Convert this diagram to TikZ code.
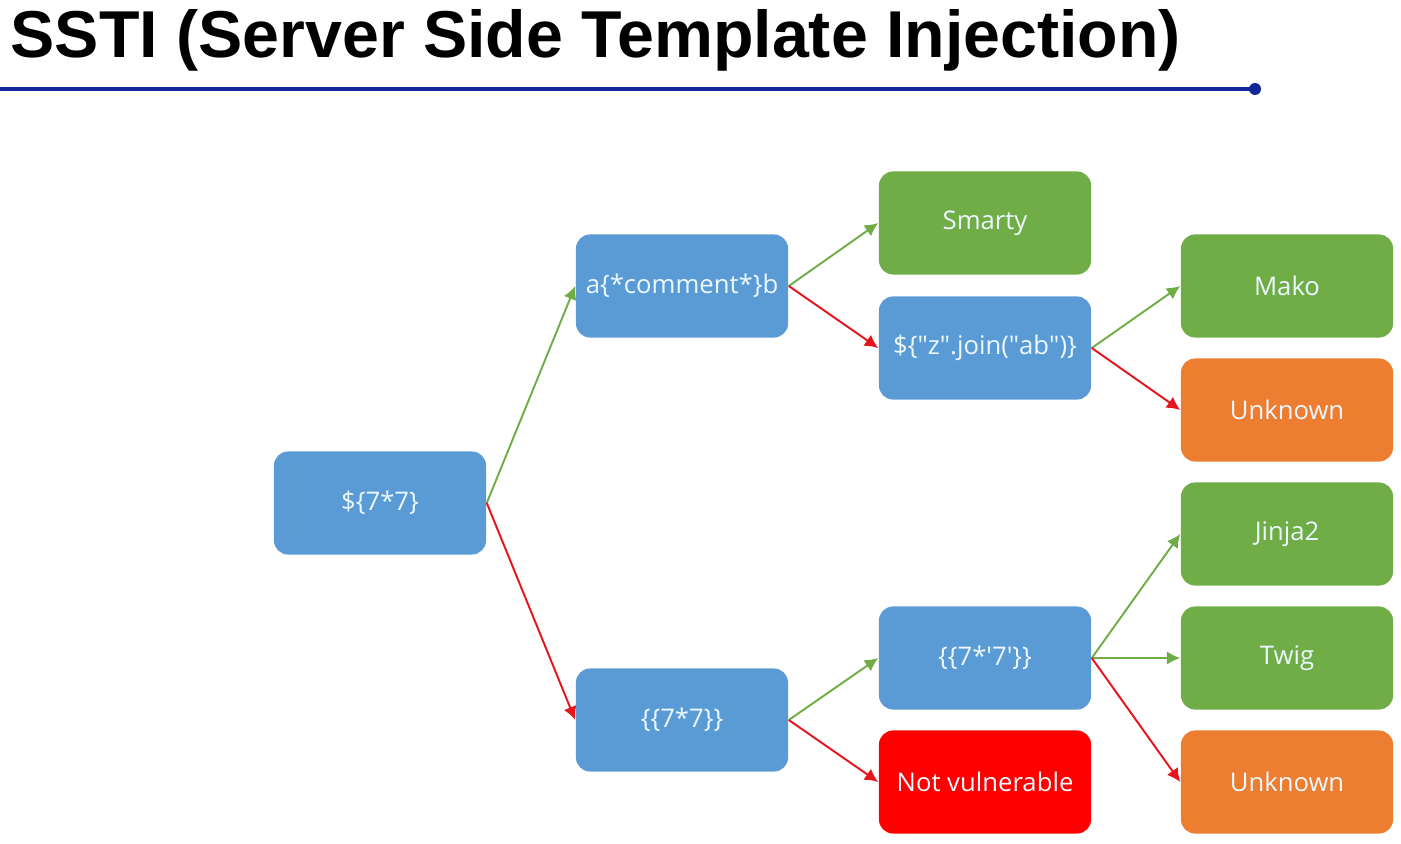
\documentclass[tikz,border=0pt]{standalone}
\usepackage{fontspec}
\setmainfont{Open Sans}
\newfontfamily\titlefont{Liberation Sans}
\usetikzlibrary{arrows.meta}
\definecolor{boxblue}{HTML}{5B9BD5}
\definecolor{boxgreen}{HTML}{70AD47}
\definecolor{boxorange}{HTML}{ED7D31}
\definecolor{boxred}{HTML}{FF0000}
\definecolor{rulerblue}{HTML}{12279A}
\definecolor{arrowgreen}{HTML}{70AD47}
\definecolor{arrowred}{HTML}{E8141C}
\tikzset{
  tbox/.style={rounded corners=4pt, minimum width=2.12cm, minimum height=1.03cm,
    text=white!92!cyan, font=\fontsize{7.3pt}{8pt}\selectfont, inner sep=0pt},
  bluebox/.style={tbox, fill=boxblue},
  greenbox/.style={tbox, fill=boxgreen},
  orangebox/.style={tbox, fill=boxorange},
  redbox/.style={tbox, fill=boxred},
  yes/.style={-{Latex[length=3.8pt,width=3.8pt]}, arrowgreen, line width=0.55pt},
  no/.style={-{Latex[length=3.8pt,width=3.8pt]}, arrowred, line width=0.55pt}
}

\begin{document}
\begin{tikzpicture}[x=0.01cm,y=-0.01cm]
    \useasboundingbox (0,0) rectangle (1401,843);
    % title and ruler
    \node[anchor=base west, inner sep=0pt, font=\titlefont\bfseries\fontsize{18.85pt}{21pt}\selectfont] (title) at (10,58) {SSTI (Server Side Template Injection)};
    \coordinate (rulestart) at (0,89);
    \coordinate (ruleend) at (1255,89);
    \draw[rulerblue, line width=0.9pt] (rulestart) -- (ruleend);
    \fill[rulerblue] (ruleend) circle (6);
    % nodes
    \node[bluebox] (root) at (380,503) {\$\{7*7\}};
    \node[bluebox] (comment) at (682,286) {a\{*comment*\}b};
    \node[bluebox] (curly) at (682,720) {\{\{7*7\}\}};
    \node[greenbox] (smarty) at (985,223) {Smarty};
    \node[bluebox] (join) at (985,348) {\$\{\textquotedbl z\textquotedbl.join(\textquotedbl ab\textquotedbl)\}};
    \node[bluebox] (quoted) at (985,658) {\{\{7*\textquotesingle 7\textquotesingle\}\}};
    \node[redbox] (notvuln) at (985,782) {Not vulnerable};
    \node[greenbox] (mako) at (1287,286) {Mako};
    \node[orangebox] (unknownA) at (1287,410) {Unknown};
    \node[greenbox] (jinja) at (1287,534) {Jinja2};
    \node[greenbox] (twig) at (1287,658) {Twig};
    \node[orangebox] (unknownB) at (1287,782) {Unknown};
    % connectors
    \draw[yes] (root.east) -- (comment.west);
    \draw[no] (root.east) -- (curly.west);
    \draw[yes] (comment.east) -- (smarty.west);
    \draw[no] (comment.east) -- (join.west);
    \draw[yes] (join.east) -- (mako.west);
    \draw[no] (join.east) -- (unknownA.west);
    \draw[yes] (curly.east) -- (quoted.west);
    \draw[no] (curly.east) -- (notvuln.west);
    \draw[yes] (quoted.east) -- (jinja.west);
    \draw[yes] (quoted.east) -- (twig.west);
    \draw[no] (quoted.east) -- (unknownB.west);
\end{tikzpicture}
\end{document}
